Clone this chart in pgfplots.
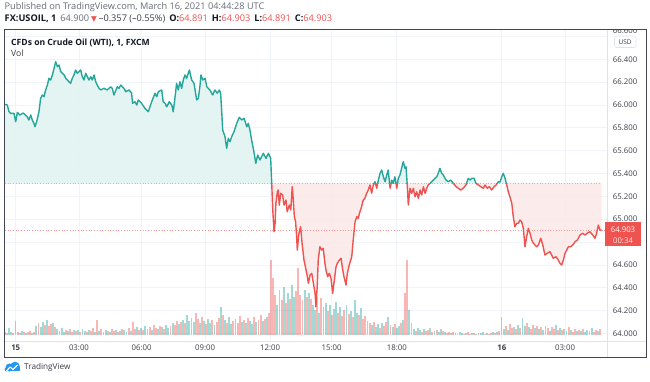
\documentclass[border=0pt]{standalone}
\usepackage{fontspec}
\setmainfont{Open Sans}
\newfontfamily\dejavu{DejaVu Sans}
\usepackage{pgfplots}
\pgfplotsset{compat=1.18}
\usepackage{pgfplotstable}
\definecolor{tvteal}{RGB}{38,166,154}
\definecolor{tvred}{RGB}{239,83,80}
\definecolor{tvtext}{RGB}{19,23,34}
\definecolor{tvgray}{RGB}{106,109,120}
\definecolor{tvtick}{RGB}{60,63,72}
\definecolor{tvgrid}{RGB}{240,243,250}
\definecolor{tvsep}{RGB}{224,227,235}
\definecolor{tvframe}{RGB}{67,70,81}
\definecolor{tvlogo}{RGB}{33,150,243}
\definecolor{tealfill}{RGB}{226,243,241}
\definecolor{redfill}{RGB}{252,232,232}

\pgfplotstableread{
h v
-0.50 66.005
-0.39 65.999
-0.31 65.940
-0.23 65.926
-0.07 65.926
0.01 65.853
0.09 65.935
0.21 65.912
0.37 65.929
0.56 65.897
0.64 65.868
0.73 65.912
0.80 65.868
0.88 65.839
0.93 65.809
1.01 65.853
1.12 65.940
1.20 66.058
1.28 66.087
1.36 66.072
1.44 66.131
1.52 66.174
1.60 66.233
1.68 66.218
1.76 66.262
1.84 66.321
1.92 66.378
2.00 66.335
2.08 66.349
2.16 66.291
2.32 66.262
2.40 66.233
2.55 66.203
2.63 66.189
2.71 66.233
2.79 66.262
2.87 66.306
2.95 66.277
3.11 66.306
3.19 66.247
3.27 66.218
3.35 66.277
3.43 66.247
3.51 66.218
3.59 66.247
3.67 66.218
3.75 66.262
3.83 66.203
3.90 66.174
3.99 66.145
4.07 66.131
4.22 66.145
4.38 66.131
4.54 66.159
4.62 66.145
4.70 66.087
4.86 66.159
4.94 66.145
5.02 66.174
5.18 66.145
5.26 66.116
5.42 66.131
5.54 66.104
5.59 66.014
5.70 66.028
5.79 65.999
5.86 66.043
6.02 66.014
6.18 65.970
6.34 65.940
6.50 66.028
6.66 66.102
6.74 66.072
6.82 66.116
6.98 66.131
7.05 66.028
7.14 66.014
7.22 65.984
7.34 66.028
7.46 65.999
7.53 65.940
7.61 66.058
7.69 66.189
7.77 66.131
7.85 66.203
7.93 66.145
8.01 66.218
8.09 66.262
8.17 66.233
8.30 66.306
8.41 66.218
8.52 66.189
8.65 66.043
8.73 66.058
8.81 66.174
8.85 66.262
8.94 66.218
9.05 66.233
9.13 66.159
9.28 66.131
9.41 66.087
9.52 66.131
9.63 66.102
9.73 66.131
9.79 66.102
9.84 65.955
9.89 65.780
10.00 65.722
10.08 65.620
10.16 65.708
10.24 65.678
10.32 65.722
10.43 65.765
10.56 65.839
10.68 65.891
10.80 65.868
10.91 65.883
11.04 65.809
11.11 65.839
11.19 65.780
11.27 65.693
11.38 65.590
11.47 65.489
11.56 65.561
11.67 65.518
11.75 65.546
11.83 65.576
11.96 65.532
12.07 65.576
12.18 65.532
12.23 65.313
12.28 65.080
12.34 64.890
12.39 64.963
12.43 65.138
12.50 65.240
12.54 65.255
12.59 65.123
12.66 65.226
12.75 65.211
12.82 65.123
12.91 65.167
12.97 65.065
13.07 65.123
13.14 65.080
13.21 65.284
13.26 65.167
13.31 65.021
13.37 64.977
13.42 64.846
13.45 64.729
13.53 64.876
13.61 64.933
13.68 64.788
13.77 64.642
13.87 64.554
13.93 64.496
13.98 64.438
14.06 64.511
14.14 64.525
14.22 64.438
14.30 64.350
14.34 64.233
14.41 64.438
14.45 64.642
14.53 64.758
14.62 64.729
14.69 64.744
14.77 64.613
14.82 64.554
14.90 64.496
14.98 64.525
15.06 64.482
15.14 64.350
15.20 64.438
15.30 64.583
15.36 64.613
15.46 64.642
15.54 64.657
15.62 64.554
15.68 64.496
15.78 64.423
15.84 64.525
15.93 64.598
16.05 64.671
16.12 64.817
16.21 64.977
16.29 65.021
16.36 65.007
16.44 65.065
16.52 65.109
16.60 65.167
16.68 65.182
16.76 65.226
16.84 65.255
16.92 65.299
17.00 65.226
17.08 65.299
17.16 65.328
17.24 65.270
17.32 65.342
17.40 65.401
17.48 65.430
17.56 65.371
17.64 65.328
17.72 65.386
17.79 65.430
17.88 65.270
17.96 65.342
18.03 65.313
18.11 65.371
18.20 65.270
18.27 65.357
18.35 65.386
18.43 65.445
18.51 65.503
18.59 65.445
18.64 65.459
18.70 65.299
18.75 65.123
18.83 65.270
18.91 65.226
18.99 65.270
19.07 65.196
19.15 65.240
19.23 65.182
19.31 65.255
19.39 65.211
19.47 65.284
19.55 65.226
19.63 65.270
19.70 65.299
19.79 65.313
19.87 65.328
19.94 65.342
20.02 65.357
20.11 65.371
20.18 65.401
20.26 65.445
20.34 65.401
20.42 65.386
20.55 65.342
20.66 65.328
20.77 65.342
20.90 65.313
21.03 65.284
21.14 65.270
21.25 65.255
21.37 65.270
21.50 65.299
21.61 65.357
21.70 65.342
21.78 65.357
21.89 65.357
21.98 65.313
22.09 65.299
22.21 65.284
22.33 65.270
22.41 65.299
22.52 65.270
22.62 65.284
22.73 65.255
22.84 65.284
22.94 65.299
23.05 65.328
23.13 65.325
23.21 65.371
23.28 65.401
23.37 65.357
23.45 65.299
23.52 65.240
23.60 65.196
23.69 65.138
23.76 65.021
23.84 64.933
23.92 64.963
24.00 64.963
24.08 64.992
24.16 64.977
24.24 64.919
24.32 64.758
24.40 64.846
24.48 64.919
24.56 64.876
24.64 64.817
24.72 64.788
24.80 64.773
24.88 64.758
24.96 64.773
25.07 64.832
25.17 64.773
25.27 64.686
25.38 64.701
25.51 64.715
25.59 64.686
25.67 64.657
25.80 64.671
25.91 64.642
25.99 64.613
26.07 64.598
26.15 64.642
26.23 64.701
26.31 64.729
26.39 64.758
26.50 64.758
26.60 64.773
26.71 64.802
26.82 64.817
26.95 64.861
27.07 64.876
27.18 64.861
27.29 64.876
27.42 64.890
27.55 64.861
27.66 64.832
27.74 64.876
27.82 64.948
27.90 64.905
27.98 64.903
}\price

\pgfplotstableread[row sep=\\]{t v d\\
-0.5 3 1\\ -0.4 2 0\\ -0.3 7 1\\ -0.2 3 1\\ -0.1 2 0\\
0.0 14 1\\ 0.1 3 0\\ 0.2 2 1\\ 0.3 4 1\\ 0.4 3 0\\ 0.5 2 1\\ 0.6 3 0\\ 0.7 4 0\\ 0.8 2 1\\ 0.9 3 0\\
1.0 9 1\\ 1.1 12 0\\ 1.2 8 1\\ 1.3 13 1\\ 1.4 10 0\\ 1.5 15 1\\ 1.6 9 0\\ 1.7 11 0\\ 1.8 12 1\\ 1.9 8 0\\
2.0 6 1\\ 2.1 4 0\\ 2.2 7 1\\ 2.3 3 1\\ 2.4 5 0\\ 2.5 4 1\\ 2.6 6 0\\ 2.7 3 0\\ 2.8 5 1\\ 2.9 4 0\\
3.0 5 1\\ 3.1 3 0\\ 3.2 6 1\\ 3.3 4 1\\ 3.4 3 0\\ 3.5 5 1\\ 3.6 4 0\\ 3.7 7 0\\ 3.8 3 1\\ 3.9 15 0\\
4.0 4 1\\ 4.1 6 0\\ 4.2 3 1\\ 4.3 5 1\\ 4.4 4 0\\ 4.5 3 1\\ 4.6 6 0\\ 4.7 4 0\\ 4.8 5 1\\ 4.9 3 0\\
5.0 4 1\\ 5.1 6 0\\ 5.2 5 1\\ 5.3 3 1\\ 5.4 7 0\\ 5.5 4 1\\ 5.6 13 0\\ 5.7 6 0\\ 5.8 8 1\\ 5.9 5 0\\
6.0 7 1\\ 6.1 5 0\\ 6.2 9 1\\ 6.3 6 1\\ 6.4 8 0\\ 6.5 5 1\\ 6.6 10 0\\ 6.7 7 0\\ 6.8 6 1\\ 6.9 9 0\\
7.0 8 1\\ 7.1 6 0\\ 7.2 10 1\\ 7.3 7 1\\ 7.4 9 0\\ 7.5 12 1\\ 7.6 10 0\\ 7.7 14 0\\ 7.8 11 1\\ 7.9 13 0\\
8.0 15 1\\ 8.1 12 0\\ 8.2 20 1\\ 8.3 14 1\\ 8.4 17 0\\ 8.5 13 1\\ 8.6 22 0\\ 8.7 16 0\\ 8.8 12 1\\ 8.9 18 0\\
9.0 14 1\\ 9.1 11 0\\ 9.2 16 1\\ 9.3 12 1\\ 9.4 15 0\\ 9.5 10 1\\ 9.6 13 0\\ 9.7 17 0\\ 9.8 28 1\\ 9.9 20 0\\
10.0 15 1\\ 10.1 12 0\\ 10.2 18 1\\ 10.3 11 1\\ 10.4 14 0\\ 10.5 16 1\\ 10.6 12 0\\ 10.7 19 0\\ 10.8 13 1\\ 10.9 15 0\\
11.0 12 1\\ 11.1 17 0\\ 11.2 14 1\\ 11.3 11 1\\ 11.4 18 0\\ 11.5 13 1\\ 11.6 15 0\\ 11.7 20 0\\ 11.8 14 1\\ 11.9 16 0\\
12.0 18 1\\ 12.1 22 0\\ 12.2 75 0\\ 12.3 57 0\\ 12.4 40 0\\ 12.5 30 1\\ 12.6 45 0\\ 12.7 35 0\\ 12.8 48 1\\ 12.9 32 0\\
13.0 42 1\\ 13.1 36 0\\ 13.2 50 1\\ 13.3 38 1\\ 13.4 44 0\\ 13.5 67 0\\ 13.6 40 0\\ 13.7 35 0\\ 13.8 45 1\\ 13.9 38 0\\
14.0 42 1\\ 14.1 36 0\\ 14.2 30 1\\ 14.3 25 1\\ 14.4 38 0\\ 14.5 22 1\\ 14.6 37 0\\ 14.7 28 0\\ 14.8 32 1\\ 14.9 24 0\\
15.0 30 1\\ 15.1 20 0\\ 15.2 26 1\\ 15.3 33 1\\ 15.4 22 0\\ 15.5 28 1\\ 15.6 19 0\\ 15.7 25 0\\ 15.8 30 1\\ 15.9 21 0\\
16.0 24 1\\ 16.1 18 0\\ 16.2 35 1\\ 16.3 22 1\\ 16.4 20 0\\ 16.5 27 1\\ 16.6 16 0\\ 16.7 19 0\\ 16.8 14 1\\ 16.9 12 0\\
17.0 10 1\\ 17.1 13 0\\ 17.2 8 1\\ 17.3 11 1\\ 17.4 7 0\\ 17.5 12 1\\ 17.6 9 0\\ 17.7 13 0\\ 17.8 18 1\\ 17.9 10 0\\
18.0 8 1\\ 18.1 11 0\\ 18.2 7 1\\ 18.3 9 1\\ 18.4 12 0\\ 18.5 15 1\\ 18.6 42 0\\ 18.7 75 0\\ 18.8 25 1\\ 18.9 12 0\\
19.0 6 1\\ 19.1 4 0\\ 19.2 7 1\\ 19.3 5 1\\ 19.4 3 0\\ 19.5 6 1\\ 19.6 4 0\\ 19.7 5 0\\ 19.8 7 1\\ 19.9 3 0\\
20.0 4 1\\ 20.1 5 0\\ 20.2 3 1\\ 20.3 6 1\\ 20.4 4 0\\ 20.5 3 1\\ 20.6 2 0\\ 20.7 3 0\\ 20.8 2 1\\ 20.9 3 0\\
21.0 2 1\\ 21.1 1 0\\ 21.2 3 1\\ 21.3 2 1\\ 21.4 1 0\\ 21.5 2 1\\ 21.6 3 0\\ 21.7 1 0\\ 21.8 2 1\\ 21.9 2 0\\
22.0 1 1\\ 22.1 2 0\\ 22.2 2 1\\ 22.3 3 1\\ 22.4 1 0\\ 22.5 2 1\\ 22.6 1 0\\ 22.7 2 0\\ 22.8 3 1\\ 22.9 2 0\\
23.0 3 1\\ 23.1 4 0\\ 23.2 18 1\\ 23.3 6 1\\ 23.4 9 0\\ 23.5 5 1\\ 23.6 11 0\\ 23.7 7 0\\ 23.8 8 1\\ 23.9 6 0\\
24.0 10 1\\ 24.1 7 0\\ 24.2 17 1\\ 24.3 9 1\\ 24.4 12 0\\ 24.5 8 1\\ 24.6 6 0\\ 24.7 10 0\\ 24.8 7 1\\ 24.9 9 0\\
25.0 6 1\\ 25.1 8 0\\ 25.2 5 1\\ 25.3 9 1\\ 25.4 7 0\\ 25.5 4 1\\ 25.6 8 0\\ 25.7 6 0\\ 25.8 10 1\\ 25.9 5 0\\
26.0 7 1\\ 26.1 5 0\\ 26.2 6 1\\ 26.3 4 1\\ 26.4 8 0\\ 26.5 5 1\\ 26.6 3 0\\ 26.7 6 0\\ 26.8 4 1\\ 26.9 5 0\\
27.0 4 1\\ 27.1 6 0\\ 27.2 3 1\\ 27.3 5 1\\ 27.4 4 0\\ 27.5 7 1\\ 27.6 3 0\\ 27.7 5 0\\ 27.8 4 1\\ 27.9 6 0\\
}\vol

\pgfplotsset{ov/.style={anchor=south west, scale only axis, width=602pt,
  xmin=-0.501, xmax=28.234, hide axis}}

\begin{document}
\begin{tikzpicture}
\useasboundingbox (0pt,0pt) rectangle (650pt,382pt);
\fill[white] (0pt,0pt) rectangle (650pt,382pt);

% price axis: grid and tick labels
\begin{axis}[at={(5pt,41pt)}, anchor=south west, scale only axis,
  width=602pt, height=311pt,
  xmin=-0.501, xmax=28.234, ymin=63.933, ymax=66.656,
  axis line style={draw=none},
  major tick length=0pt,
  xtick={0.01,3.03,6.02,9.05,12.15,15.09,18.20,23.21,26.23},
  xticklabels={\textbf{15},03:00,06:00,09:00,12:00,15:00,18:00,\textbf{16},03:00},
  ytick={64,64.2,64.4,64.6,64.8,65,65.2,65.4,65.6,65.8,66,66.2,66.4,66.6},
  yticklabels={64.000,64.200,64.400,64.600,{},65.000,65.200,65.400,65.600,65.800,66.000,66.200,66.400,{}},
  yticklabel pos=right,
  grid=major, grid style={color=tvgrid, line width=0.6pt},
  ticklabel style={font=\fontsize{7.8}{9}\selectfont, text=tvtick},
  xticklabel style={anchor=base, yshift=-9.5pt, inner sep=0pt},
  yticklabel style={anchor=west, xshift=5.7pt, inner sep=0pt},
]
\addplot[draw=none] coordinates {(0,65)};
\end{axis}

% upper (teal) area: axis box ends at the baseline 65.313
\begin{axis}[ov, at={(5pt,198.61pt)}, height=153.39pt, ymin=65.313, ymax=66.656]
\addplot[fill=tealfill, fill opacity=0.9, draw=none] table[x=h,y=v]{\price}
  -- (axis cs:27.98,64) -- (axis cs:-0.50,64) -- cycle;
\end{axis}

% lower (red) area
\begin{axis}[ov, at={(5pt,41pt)}, height=157.61pt, ymin=63.933, ymax=65.313]
\addplot[fill=redfill, fill opacity=0.85, draw=none] table[x=h,y=v]{\price}
  -- (axis cs:27.98,66) -- (axis cs:-0.50,66) -- cycle;
\end{axis}

% volume overlay
\begin{axis}[ov, at={(5pt,41pt)}, height=311pt, ymin=-6, ymax=305]
\addplot[ycomb, draw=tvteal, draw opacity=0.42, line width=1.9pt, mark=none,
  restrict expr to domain={\thisrow{d}}{0.5:1.5}] table[x=t,y=v]{\vol};
\addplot[ycomb, draw=tvred, draw opacity=0.42, line width=1.9pt, mark=none,
  restrict expr to domain={\thisrow{d}}{-0.5:0.5}] table[x=t,y=v]{\vol};
\end{axis}

% baseline and last-price lines
\begin{axis}[ov, at={(5pt,41pt)}, height=311pt, ymin=63.933, ymax=66.656]
\addplot[color=gray!50, dotted, line width=0.7pt] coordinates {(-0.50,65.313) (27.98,65.313)};
\addplot[color=tvred!60, dotted, line width=0.7pt] coordinates {(-0.501,64.903) (28.234,64.903)};
\end{axis}

% upper (teal) part of the line
\begin{axis}[ov, at={(5pt,198.61pt)}, height=153.39pt, ymin=65.313, ymax=66.656]
\addplot[tvteal, line width=1.4pt, line join=round] table[x=h,y=v]{\price};
\end{axis}
% lower (red) part of the line
\begin{axis}[ov, at={(5pt,41pt)}, height=157.61pt, ymin=63.933, ymax=65.313]
\addplot[tvred, line width=1.4pt, line join=round] table[x=h,y=v]{\price};
\end{axis}

\begin{scope}[x=1pt,y=1pt]
% top price label, cut by the frame
\begin{scope}
\clip (4,25) rectangle (646,352.6);
\node[anchor=west, inner sep=0pt, text=tvtick, font=\fontsize{7.8}{9}\selectfont] at (612.7,351) {66.600};
\end{scope}

% frame and separators
\draw[tvsep, line width=0.8pt] (607,25) -- (607,353);
\draw[tvsep, line width=0.8pt] (4,41) -- (646,41);
\draw[tvframe, line width=0.9pt] (4,25) rectangle (646,353);

% price label
\fill[tvred] (605,135.5) rectangle (641,159.5);
\node[text=white, font=\fontsize{7.8}{9}\selectfont, inner sep=0pt] at (623,152) {64.903};
\node[text=white!85!tvred, font=\fontsize{7.8}{9}\selectfont, inner sep=0pt] at (623,141.5) {00:34};

% USD box
\draw[tvsep, fill=white, rounded corners=2pt, line width=0.6pt] (614.5,334.5) rectangle (636,346);
\node[text=tvtick, font=\fontsize{6.5}{8}\selectfont, inner sep=0pt] at (625.2,340.2) {USD};

% header
\node[anchor=base west, inner sep=0pt, text=tvgray, font=\fontsize{9.2}{10}\selectfont] at (4.5,372.2)
  {Published on TradingView.com, March 16, 2021 04:44:28 UTC};
\node[anchor=base west, inner sep=0pt, text=tvtext, font=\fontsize{9.2}{10}\selectfont] at (4.5,360.5)
  {\textbf{FX:USOIL, 1}\hspace{4pt}\textcolor{tvgray}{64.900}\hspace{2pt}{\dejavu\color{tvred}\fontsize{7.5}{8}\selectfont ▼}\hspace{2pt}\textcolor{tvtick}{–0.357 (–0.55\%)}\hspace{4pt}\textbf{O:}\textcolor{tvred}{64.891}\hspace{4pt}\textbf{H:}\textcolor{tvred}{64.903}\hspace{4pt}\textbf{L:}\textcolor{tvred}{64.891}\hspace{4pt}\textbf{C:}\textcolor{tvred}{64.903}};
\node[anchor=base west, inner sep=0pt, text=tvtext, font=\fontsize{8.6}{10}\selectfont\bfseries] at (11,336)
  {CFDs on Crude Oil (WTI), 1, FXCM};
\node[anchor=base west, inner sep=0pt, text=tvtick, font=\fontsize{8.6}{10}\selectfont] at (11,325)
  {Vol};

% footer logo
\fill[tvlogo] (9.5,14.5) circle (4);
\fill[tvlogo] (15,15.5) circle (4.8);
\fill[tvlogo] (6.5,10.5) rectangle (19.5,14.5);
\fill[tvlogo] (6.5,12.5) circle (2);
\draw[white, line width=1.1pt, line join=round] (6.5,11) -- (10,15) -- (13,12.5) -- (17.5,17);
\node[anchor=base west, inner sep=0pt, text=tvtick, font=\fontsize{8.2}{10}\selectfont] at (24,12)
  {TradingView};
\end{scope}
\end{tikzpicture}
\end{document}
